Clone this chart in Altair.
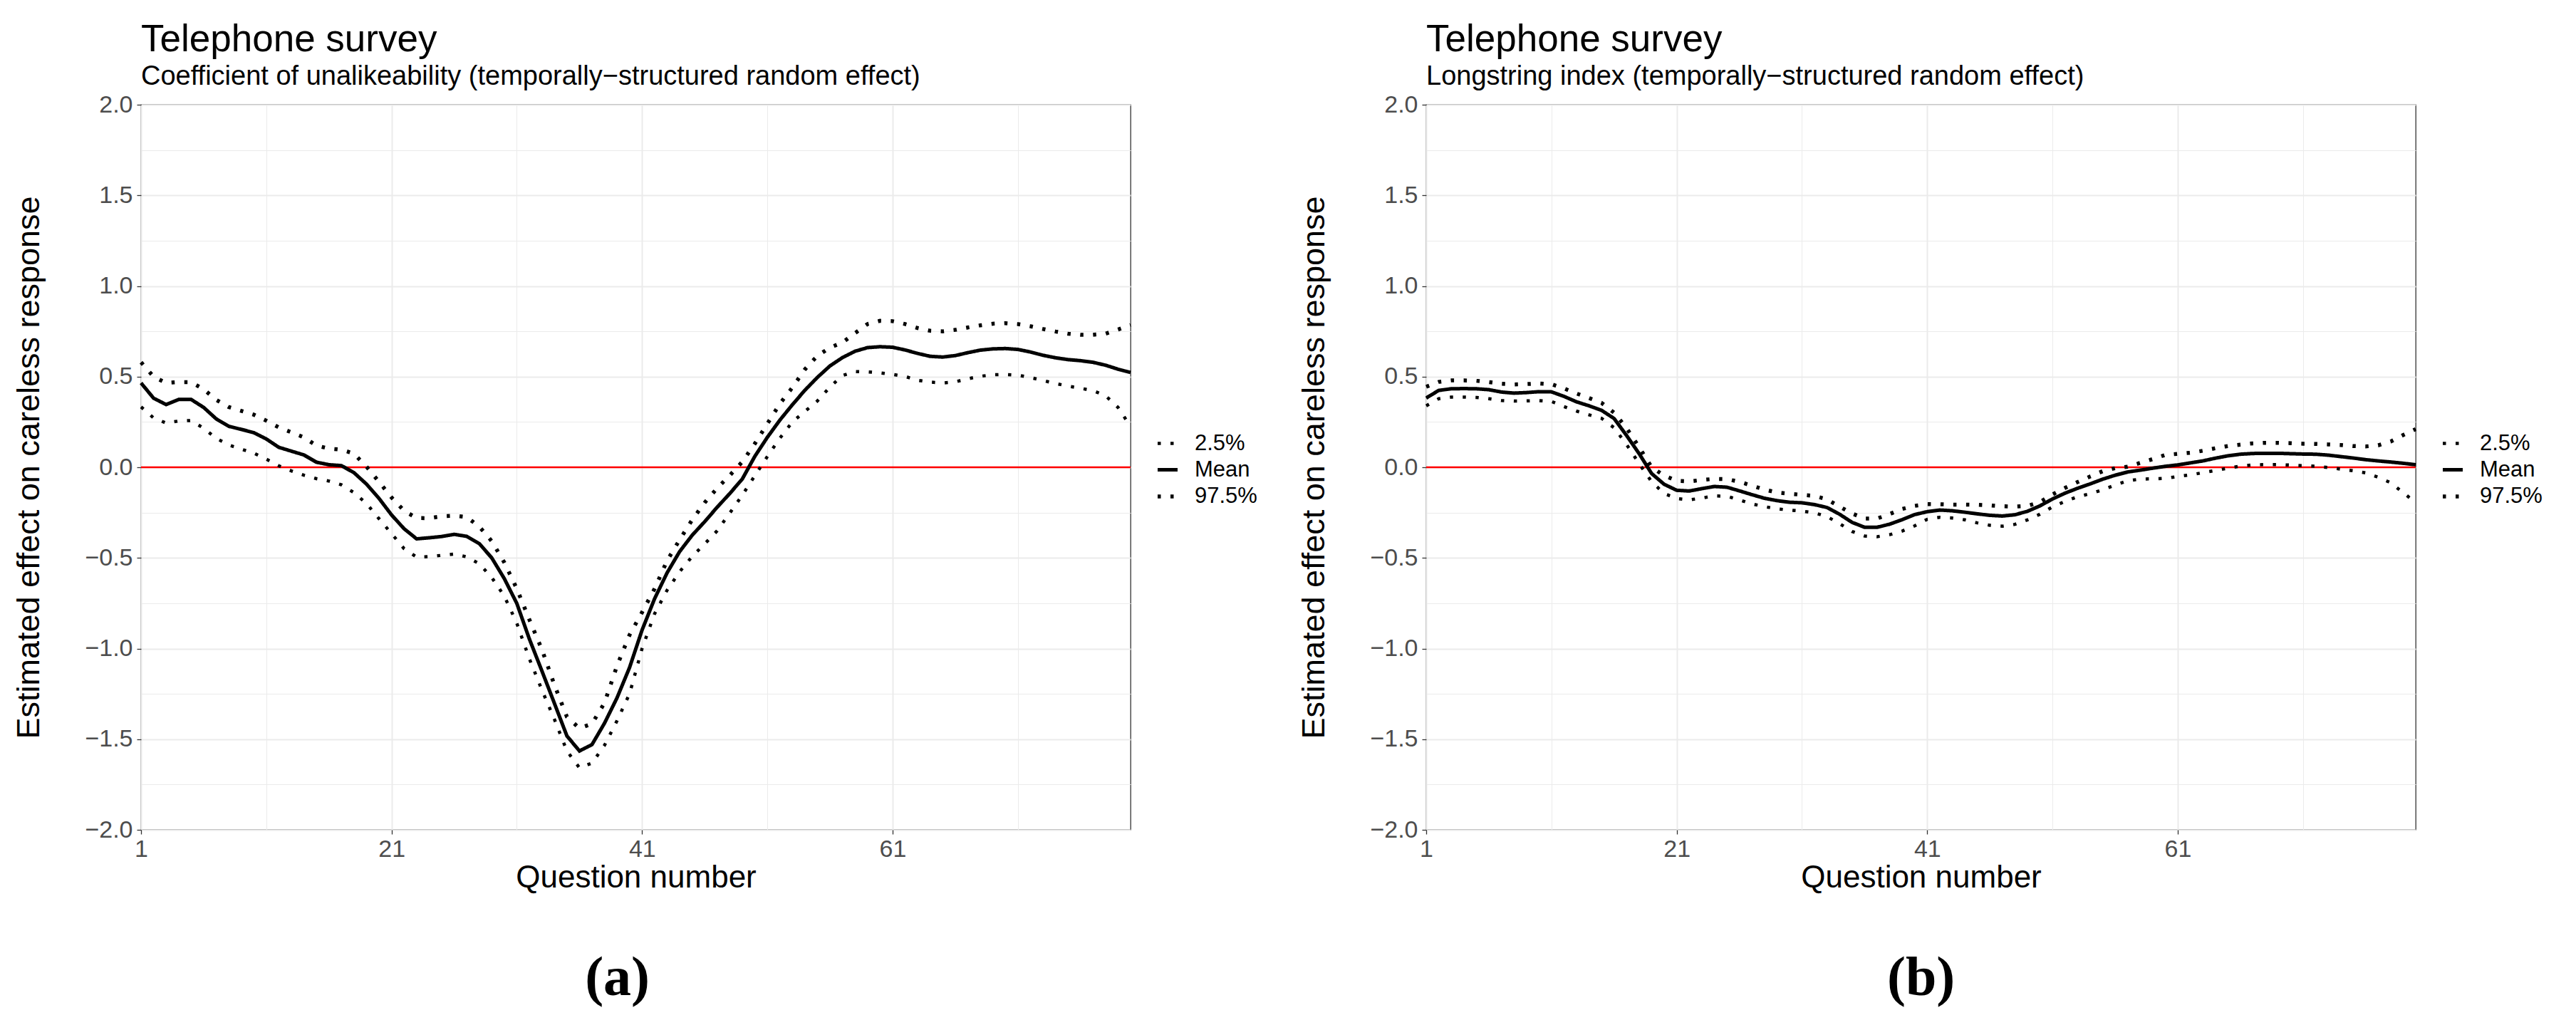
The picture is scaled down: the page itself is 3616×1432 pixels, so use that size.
import altair as alt
import pandas as pd

questions = list(range(1, 81))
series_order = ["2.5%", "Mean", "97.5%"]

a_mean = [0.465, 0.381, 0.346, 0.374, 0.374, 0.330, 0.267, 0.226, 0.209, 0.191,
          0.156, 0.110, 0.089, 0.068, 0.028, 0.014, 0.009, -0.030, -0.093, -0.172,
          -0.263, -0.339, -0.395, -0.389, -0.382, -0.370, -0.381, -0.421, -0.500, -0.614,
          -0.751, -0.947, -1.123, -1.302, -1.482, -1.565, -1.530, -1.412, -1.272, -1.105,
          -0.898, -0.725, -0.582, -0.465, -0.375, -0.300, -0.220, -0.145, -0.065, 0.060,
          0.165, 0.260, 0.345, 0.425, 0.496, 0.559, 0.605, 0.640, 0.660, 0.665,
          0.662, 0.647, 0.628, 0.612, 0.608, 0.616, 0.632, 0.646, 0.653, 0.655,
          0.650, 0.636, 0.618, 0.604, 0.594, 0.588, 0.579, 0.563, 0.541, 0.523]
a_hi = [0.579, 0.500, 0.465, 0.470, 0.470, 0.430, 0.372, 0.332, 0.311, 0.290,
        0.257, 0.220, 0.193, 0.165, 0.120, 0.103, 0.097, 0.075, 0.003, -0.080,
        -0.167, -0.240, -0.280, -0.281, -0.270, -0.267, -0.275, -0.327, -0.408, -0.525,
        -0.670, -0.840, -1.005, -1.200, -1.377, -1.440, -1.415, -1.300, -1.095, -0.925,
        -0.800, -0.670, -0.515, -0.400, -0.290, -0.195, -0.115, -0.045, 0.030, 0.130,
        0.240, 0.350, 0.440, 0.540, 0.615, 0.660, 0.688, 0.740, 0.790, 0.808,
        0.806, 0.790, 0.768, 0.753, 0.750, 0.758, 0.771, 0.783, 0.792, 0.795,
        0.790, 0.778, 0.763, 0.749, 0.737, 0.731, 0.731, 0.737, 0.760, 0.785]
a_lo = [0.333, 0.272, 0.244, 0.255, 0.258, 0.215, 0.160, 0.123, 0.100, 0.078,
        0.045, 0.008, -0.020, -0.044, -0.063, -0.076, -0.097, -0.140, -0.200, -0.284,
        -0.366, -0.449, -0.496, -0.493, -0.486, -0.479, -0.494, -0.532, -0.608, -0.711,
        -0.860, -1.056, -1.228, -1.390, -1.565, -1.658, -1.632, -1.534, -1.398, -1.250,
        -1.000, -0.808, -0.678, -0.576, -0.492, -0.423, -0.350, -0.253, -0.154, -0.047,
        0.059, 0.160, 0.250, 0.308, 0.366, 0.443, 0.506, 0.528, 0.526, 0.521,
        0.512, 0.501, 0.480, 0.470, 0.465, 0.471, 0.488, 0.502, 0.510, 0.512,
        0.508, 0.495, 0.479, 0.462, 0.448, 0.436, 0.423, 0.395, 0.330, 0.225]

b_mean = [0.382, 0.424, 0.433, 0.434, 0.433, 0.428, 0.415, 0.409, 0.412, 0.417,
          0.416, 0.391, 0.361, 0.339, 0.314, 0.269, 0.175, 0.075, -0.035, -0.094,
          -0.127, -0.131, -0.118, -0.106, -0.110, -0.130, -0.151, -0.171, -0.184, -0.193,
          -0.196, -0.206, -0.222, -0.259, -0.304, -0.331, -0.331, -0.314, -0.289, -0.261,
          -0.245, -0.236, -0.240, -0.248, -0.257, -0.265, -0.269, -0.262, -0.243, -0.213,
          -0.175, -0.143, -0.116, -0.092, -0.066, -0.044, -0.026, -0.016, -0.005, 0.005,
          0.013, 0.024, 0.035, 0.050, 0.063, 0.072, 0.076, 0.077, 0.077, 0.075,
          0.073, 0.072, 0.067, 0.059, 0.051, 0.042, 0.035, 0.029, 0.022, 0.014]
b_hi = [0.444, 0.471, 0.479, 0.479, 0.477, 0.470, 0.461, 0.457, 0.459, 0.462,
        0.458, 0.435, 0.407, 0.382, 0.355, 0.301, 0.216, 0.111, 0.000, -0.046,
        -0.075, -0.078, -0.070, -0.064, -0.065, -0.080, -0.101, -0.123, -0.139, -0.146,
        -0.152, -0.158, -0.177, -0.217, -0.255, -0.283, -0.283, -0.258, -0.230, -0.213,
        -0.203, -0.204, -0.206, -0.206, -0.207, -0.210, -0.215, -0.217, -0.213, -0.192,
        -0.150, -0.114, -0.082, -0.051, -0.022, -0.005, 0.003, 0.024, 0.045, 0.068,
        0.074, 0.080, 0.091, 0.105, 0.117, 0.125, 0.132, 0.135, 0.135, 0.133,
        0.130, 0.129, 0.126, 0.123, 0.117, 0.115, 0.121, 0.142, 0.178, 0.210]
b_lo = [0.339, 0.378, 0.387, 0.387, 0.385, 0.378, 0.368, 0.365, 0.366, 0.368,
        0.363, 0.335, 0.310, 0.289, 0.270, 0.218, 0.125, 0.020, -0.080, -0.145,
        -0.172, -0.180, -0.170, -0.158, -0.160, -0.180, -0.202, -0.217, -0.229, -0.236,
        -0.242, -0.251, -0.272, -0.311, -0.354, -0.379, -0.383, -0.372, -0.352, -0.323,
        -0.287, -0.276, -0.280, -0.290, -0.307, -0.320, -0.325, -0.315, -0.290, -0.259,
        -0.219, -0.188, -0.163, -0.146, -0.125, -0.098, -0.075, -0.065, -0.064, -0.061,
        -0.051, -0.042, -0.030, -0.018, -0.005, 0.006, 0.013, 0.015, 0.015, 0.012,
        0.009, 0.006, -0.001, -0.010, -0.019, -0.031, -0.055, -0.085, -0.140, -0.195]

y_ticks = [-2.0, -1.5, -1.0, -0.5, 0.0, 0.5, 1.0, 1.5, 2.0]
y_minor = [-1.75, -1.25, -0.75, -0.25, 0.25, 0.75, 1.25, 1.75]
x_ticks = [1, 21, 41, 61]
x_minor = [11, 31, 51, 71]
zero_line = [0.0]

main_title = "Telephone survey"
subtitle_a = "Coefficient of unalikeability (temporally\u2212structured random effect)"
subtitle_b = "Longstring index (temporally\u2212structured random effect)"

FONT = "Liberation Sans"
W, H = 1389, 1018


def long_df(lo, mean, hi):
    rows = []
    for name, vals in zip(series_order, [lo, mean, hi]):
        for q, v in zip(questions, vals):
            rows.append({"q": q, "v": v, "series": name})
    return pd.DataFrame(rows)


def panel(df, subtitle):
    xs = alt.Scale(domain=[1, 80], nice=False, zero=False)
    ys = alt.Scale(domain=[-2, 2], nice=False, zero=False)
    legend = alt.Legend(title=None, orient="none", legendX=1424, legendY=459,
                        labelFont=FONT, labelFontSize=31, labelColor="black",
                        symbolSize=784, symbolType="stroke", symbolStrokeColor="black",
                        labelOffset=21, rowPadding=5, padding=0)
    minor = alt.Chart(df).mark_point(opacity=0).encode(
        x=alt.X("q:Q", scale=xs, axis=alt.Axis(orient="top", values=x_minor, grid=True,
                                               gridColor="#EBEBEB", gridWidth=1, labels=False,
                                               ticks=False, domain=False, title=None)),
        y=alt.Y("v:Q", scale=ys, axis=alt.Axis(orient="right", values=y_minor, grid=True,
                                               gridColor="#EBEBEB", gridWidth=1, labels=False,
                                               ticks=False, domain=False, title=None)),
    )
    zero = alt.Chart(pd.DataFrame({"v": zero_line})).mark_rule(
        color="#FF0000", strokeWidth=2.6).encode(y=alt.Y("v:Q", scale=ys, axis=None))
    lines = alt.Chart(df).mark_line(color="black", strokeCap="butt").encode(
        x=alt.X("q:Q", scale=xs,
                axis=alt.Axis(values=x_ticks, title="Question number", titleFont=FONT,
                              titleFontSize=44, titleFontWeight="normal", titleColor="black",
                              titlePadding=1, labelFont=FONT, labelFontSize=34,
                              labelColor="#4D4D4D", labelPadding=4, labelFlush=False,
                              tickColor="#333333", tickSize=6, tickWidth=1.3, domain=False,
                              grid=True, gridColor="#EBEBEB", gridWidth=2)),
        y=alt.Y("v:Q", scale=ys,
                axis=alt.Axis(values=y_ticks, format=".1f",
                              title="Estimated effect on careless response", titleFont=FONT,
                              titleFontSize=45, titleFontWeight="normal", titleColor="black",
                              titlePadding=55, labelFont=FONT, labelFontSize=34,
                              labelColor="#4D4D4D", labelPadding=6, labelFlush=False,
                              tickColor="#333333", tickSize=6, tickWidth=1.3, domain=False,
                              grid=True, gridColor="#EBEBEB", gridWidth=2)),
        strokeDash=alt.StrokeDash("series:N",
                                  scale=alt.Scale(domain=series_order,
                                                  range=[[4.5, 13.5], [1, 0], [4.5, 13.5]]),
                                  legend=legend),
        strokeWidth=alt.StrokeWidth("series:N",
                                    scale=alt.Scale(domain=series_order, range=[4.5, 5.5, 4.5]),
                                    legend=legend),
        detail="series:N",
    )
    layered = alt.layer(minor, zero, lines).resolve_axis(x="independent", y="independent").properties(
        width=W, height=H,
        title=alt.TitleParams(text=main_title, subtitle=subtitle, anchor="start", frame="group",
                              font=FONT, fontSize=53, fontWeight="normal", color="black",
                              subtitleFont=FONT, subtitleFontSize=38, subtitleColor="black",
                              subtitlePadding=6, offset=3),
    )
    return layered


chart_a = panel(long_df(a_lo, a_mean, a_hi), subtitle_a)
chart_b = panel(long_df(b_lo, b_mean, b_hi), subtitle_b)

cap_style = dict(orient="bottom", anchor="middle", font="Liberation Serif", fontSize=78,
                 fontWeight="bold", color="black", offset=80)
wrap_a = alt.vconcat(chart_a, title=alt.TitleParams(text="(a)", dx=-25, **cap_style))
wrap_b = alt.vconcat(chart_b, title=alt.TitleParams(text="(b)", dx=1, **cap_style))

chart = alt.hconcat(wrap_a, wrap_b, spacing=57).resolve_legend(
    strokeDash="independent", strokeWidth="independent"
).properties(
    padding={"left": 10, "top": 21, "right": 5, "bottom": 5},
    background="white",
).configure_view(stroke="#333333", strokeWidth=1.3)

chart.save("out.html", embed_options={"renderer": "svg", "actions": False})
